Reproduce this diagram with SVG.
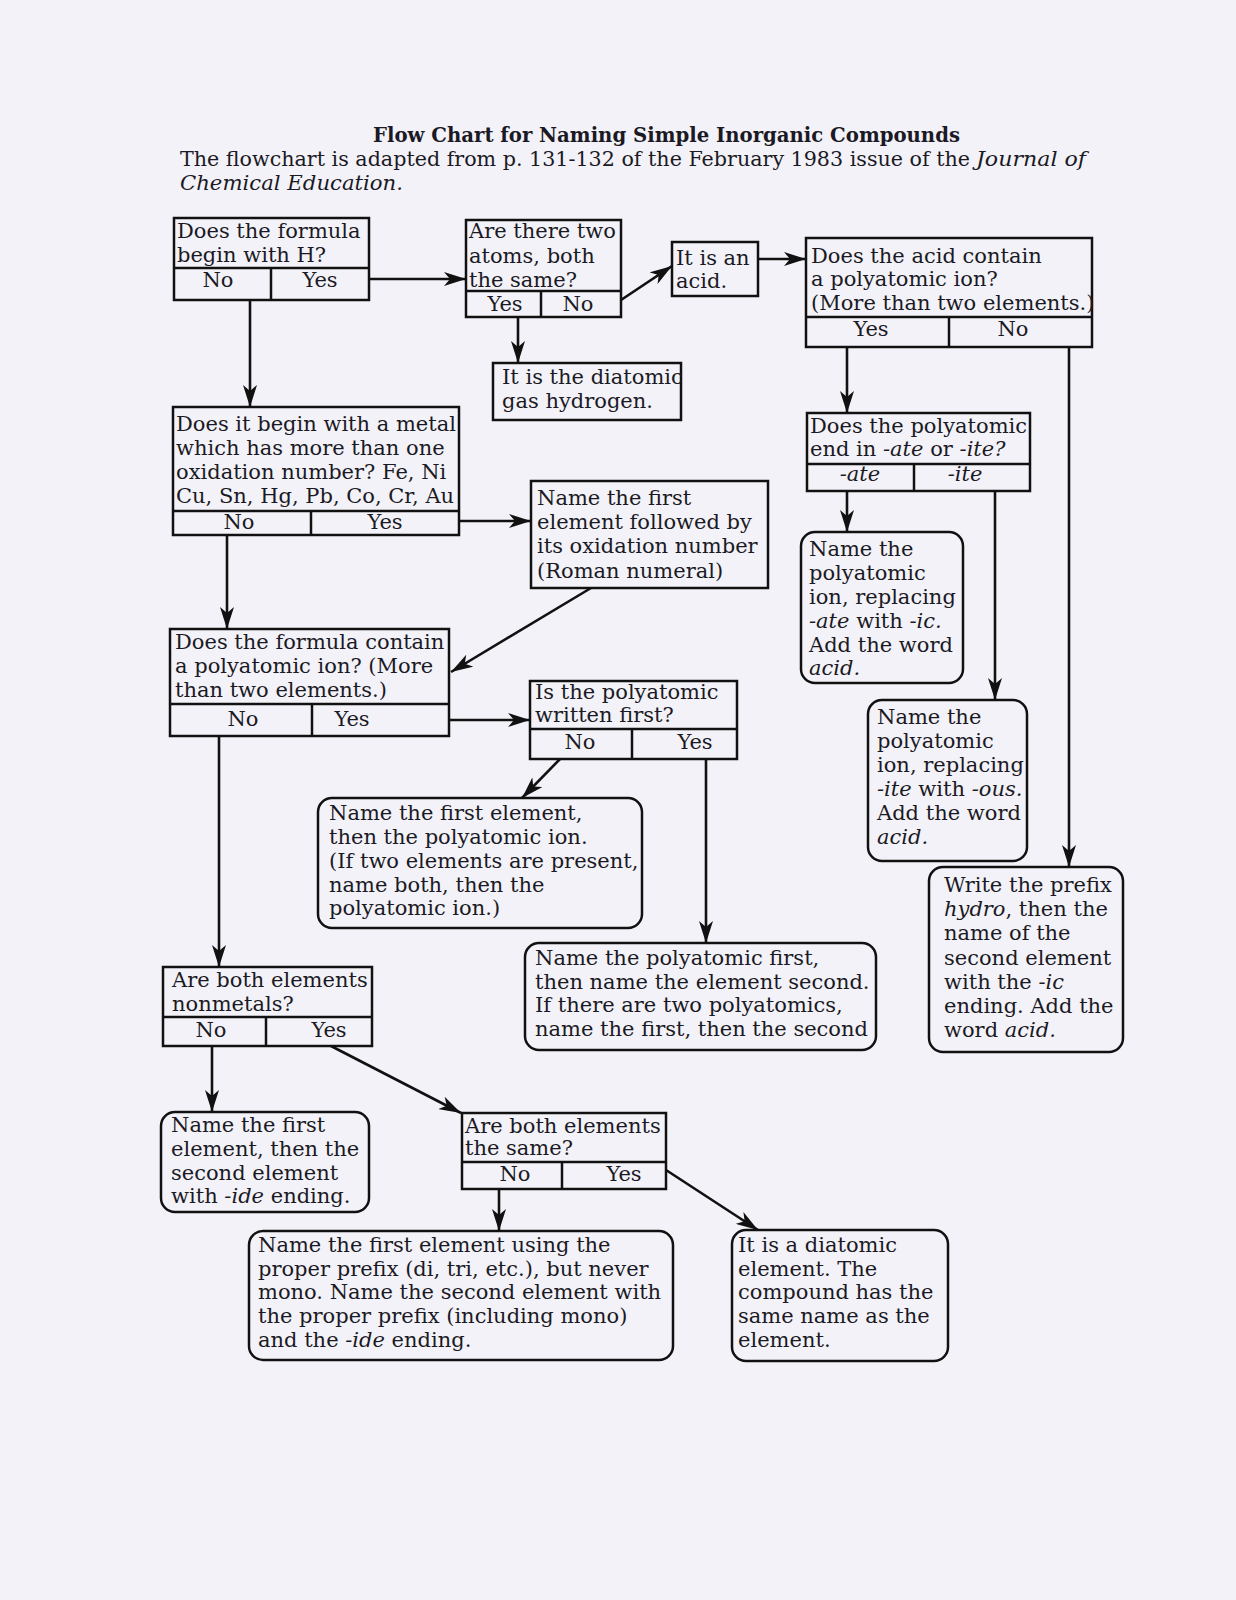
<svg xmlns="http://www.w3.org/2000/svg" width="1236" height="1600" viewBox="0 0 1236 1600">
<style>
.bx{fill:none;stroke:#111;stroke-width:2.5}
.dv{stroke:#111;stroke-width:2.5}
.t{font-family:"DejaVu Serif","Liberation Serif",serif;font-size:21px;fill:#1b1a24}
.c{text-anchor:middle}
.i{font-style:italic}
.cn{fill:none;stroke:#111;stroke-width:2.6}
</style>
<defs>
<marker id="ah" markerUnits="userSpaceOnUse" markerWidth="24" markerHeight="14" refX="22" refY="7" orient="auto">
<path d="M0,0 L22,7 L0,14 L6,7 Z" fill="#111"/>
</marker>
</defs>
<rect x="0" y="0" width="1236" height="1600" fill="#f3f2f9"/>

<g id="title">
<text x="373" y="142" textLength="587" lengthAdjust="spacingAndGlyphs" style="font-family:'DejaVu Serif',serif;font-weight:bold;font-size:20px;fill:#1b1a24">Flow Chart for Naming Simple Inorganic Compounds</text>
<text x="180" y="166" textLength="790" lengthAdjust="spacingAndGlyphs" style="font-family:'DejaVu Serif',serif;font-size:21px;fill:#1b1a24">The flowchart is adapted from p. 131-132 of the February 1983 issue of the</text>
<text x="976" y="166" textLength="110" lengthAdjust="spacingAndGlyphs" style="font-family:'DejaVu Serif',serif;font-size:21px;font-style:italic;fill:#1b1a24">Journal of</text>
<text x="180" y="190" textLength="223" lengthAdjust="spacingAndGlyphs" style="font-family:'DejaVu Serif',serif;font-size:21px;font-style:italic;fill:#1b1a24">Chemical  Education.</text>
</g>

<g id="connectors">
<path class="cn" d="M369,279 H466" marker-end="url(#ah)"/>
<path class="cn" d="M250,300 V407" marker-end="url(#ah)"/>
<path class="cn" d="M518,317 V363" marker-end="url(#ah)"/>
<path class="cn" d="M621,300 L672,266" marker-end="url(#ah)"/>
<path class="cn" d="M758,259 H806" marker-end="url(#ah)"/>
<path class="cn" d="M847,347 V413" marker-end="url(#ah)"/>
<path class="cn" d="M1069,347 V867" marker-end="url(#ah)"/>
<path class="cn" d="M847,491 V532" marker-end="url(#ah)"/>
<path class="cn" d="M995,491 V700" marker-end="url(#ah)"/>
<path class="cn" d="M459,521 H531" marker-end="url(#ah)"/>
<path class="cn" d="M227,535 V629" marker-end="url(#ah)"/>
<path class="cn" d="M591,588 L451,672" marker-end="url(#ah)"/>
<path class="cn" d="M449,720 H530" marker-end="url(#ah)"/>
<path class="cn" d="M219,736 V967" marker-end="url(#ah)"/>
<path class="cn" d="M560,759 L522,798" marker-end="url(#ah)"/>
<path class="cn" d="M706,759 V943" marker-end="url(#ah)"/>
<path class="cn" d="M212,1046 V1112" marker-end="url(#ah)"/>
<path class="cn" d="M331,1046 L461,1113" marker-end="url(#ah)"/>
<path class="cn" d="M499,1189 V1231" marker-end="url(#ah)"/>
<path class="cn" d="M666,1170 L758,1230" marker-end="url(#ah)"/>
</g>

<g id="n-begin-h">
<rect class="bx" x="174" y="218" width="195" height="82"/>
<line class="dv" x1="174" y1="268" x2="369" y2="268"/>
<line class="dv" x1="271" y1="268" x2="271" y2="300"/>
<text class="t" x="177" y="238">Does the formula</text>
<text class="t" x="177" y="262">begin with H?</text>
<text class="t c" x="218" y="287">No</text>
<text class="t c" x="320" y="287">Yes</text>
</g>

<g id="n-two-atoms">
<rect class="bx" x="466" y="220" width="155" height="97"/>
<line class="dv" x1="466" y1="291" x2="621" y2="291"/>
<line class="dv" x1="541" y1="291" x2="541" y2="317"/>
<text class="t" x="469" y="238">Are there two</text>
<text class="t" x="469" y="263">atoms, both</text>
<text class="t" x="469" y="287">the same?</text>
<text class="t c" x="505" y="311">Yes</text>
<text class="t c" x="578" y="311">No</text>
</g>

<g id="n-diatomic-gas">
<rect class="bx" x="493" y="363" width="188" height="57"/>
<text class="t" x="502" y="384">It is the diatomic</text>
<text class="t" x="502" y="408">gas hydrogen.</text>
</g>

<g id="n-acid">
<rect class="bx" x="672" y="242" width="86" height="54"/>
<text class="t" x="676" y="265">It is an</text>
<text class="t" x="676" y="288">acid.</text>
</g>

<g id="n-acid-poly">
<rect class="bx" x="806" y="238" width="286" height="109"/>
<line class="dv" x1="806" y1="317" x2="1092" y2="317"/>
<line class="dv" x1="949" y1="317" x2="949" y2="347"/>
<text class="t" x="811" y="263">Does the acid contain</text>
<text class="t" x="811" y="286">a polyatomic ion?</text>
<text class="t" x="811" y="310">(More than two elements.)</text>
<text class="t c" x="871" y="336">Yes</text>
<text class="t c" x="1013" y="336">No</text>
</g>

<g id="n-ate-ite">
<rect class="bx" x="807" y="413" width="223" height="78"/>
<line class="dv" x1="807" y1="464" x2="1030" y2="464"/>
<line class="dv" x1="914" y1="464" x2="914" y2="491"/>
<text class="t" x="810" y="433">Does the polyatomic</text>
<text class="t" x="810" y="456">end in <tspan class="i">-ate</tspan> or <tspan class="i">-ite?</tspan></text>
<text class="t c i" x="860" y="481">-ate</text>
<text class="t c i" x="965" y="481">-ite</text>
</g>

<g id="n-ate-result">
<rect class="bx" x="801" y="532" width="162" height="151" rx="14"/>
<text class="t" x="809" y="556">Name the</text>
<text class="t" x="809" y="580">polyatomic</text>
<text class="t" x="809" y="604">ion, replacing</text>
<text class="t" x="809" y="628"><tspan class="i">-ate</tspan> with <tspan class="i">-ic.</tspan></text>
<text class="t" x="809" y="652">Add the word</text>
<text class="t i" x="809" y="675">acid.</text>
</g>

<g id="n-ite-result">
<rect class="bx" x="868" y="700" width="159" height="161" rx="14"/>
<text class="t" x="877" y="724">Name the</text>
<text class="t" x="877" y="748">polyatomic</text>
<text class="t" x="877" y="772">ion, replacing</text>
<text class="t" x="877" y="796"><tspan class="i">-ite</tspan> with <tspan class="i">-ous.</tspan></text>
<text class="t" x="877" y="820">Add the word</text>
<text class="t i" x="877" y="844">acid.</text>
</g>

<g id="n-hydro">
<rect class="bx" x="929" y="867" width="194" height="185" rx="14"/>
<text class="t" x="944" y="892">Write the prefix</text>
<text class="t" x="944" y="916"><tspan class="i">hydro</tspan>, then the</text>
<text class="t" x="944" y="940">name of the</text>
<text class="t" x="944" y="965">second element</text>
<text class="t" x="944" y="989">with the <tspan class="i">-ic</tspan></text>
<text class="t" x="944" y="1013">ending. Add the</text>
<text class="t" x="944" y="1037">word <tspan class="i">acid.</tspan></text>
</g>

<g id="n-metal">
<rect class="bx" x="173" y="407" width="286" height="128"/>
<line class="dv" x1="173" y1="511" x2="459" y2="511"/>
<line class="dv" x1="311" y1="511" x2="311" y2="535"/>
<text class="t" x="176" y="431">Does it begin with a metal</text>
<text class="t" x="176" y="455">which has more than one</text>
<text class="t" x="176" y="479">oxidation number? Fe, Ni</text>
<text class="t" x="176" y="503">Cu, Sn, Hg, Pb, Co, Cr, Au</text>
<text class="t c" x="239" y="529">No</text>
<text class="t c" x="385" y="529">Yes</text>
</g>

<g id="n-roman">
<rect class="bx" x="531" y="481" width="237" height="107"/>
<text class="t" x="537" y="505">Name the first</text>
<text class="t" x="537" y="529">element followed by</text>
<text class="t" x="537" y="553">its oxidation number</text>
<text class="t" x="537" y="578">(Roman  numeral)</text>
</g>

<g id="n-formula-poly">
<rect class="bx" x="170" y="629" width="279" height="107"/>
<line class="dv" x1="170" y1="704" x2="449" y2="704"/>
<line class="dv" x1="312" y1="704" x2="312" y2="736"/>
<text class="t" x="175" y="649">Does the formula contain</text>
<text class="t" x="175" y="673">a polyatomic ion? (More</text>
<text class="t" x="175" y="697">than two elements.)</text>
<text class="t c" x="243" y="726">No</text>
<text class="t c" x="352" y="726">Yes</text>
</g>

<g id="n-poly-first">
<rect class="bx" x="530" y="681" width="207" height="78"/>
<line class="dv" x1="530" y1="729" x2="737" y2="729"/>
<line class="dv" x1="632" y1="729" x2="632" y2="759"/>
<text class="t" x="535" y="699">Is the polyatomic</text>
<text class="t" x="535" y="722">written first?</text>
<text class="t c" x="580" y="749">No</text>
<text class="t c" x="695" y="749">Yes</text>
</g>

<g id="n-elem-then-poly">
<rect class="bx" x="318" y="798" width="324" height="130" rx="14"/>
<text class="t" x="329" y="820">Name the first element,</text>
<text class="t" x="329" y="844">then the polyatomic ion.</text>
<text class="t" x="329" y="868">(If two elements are present,</text>
<text class="t" x="329" y="892">name both, then the</text>
<text class="t" x="329" y="915">polyatomic ion.)</text>
</g>

<g id="n-poly-then-elem">
<rect class="bx" x="525" y="943" width="351" height="107" rx="14"/>
<text class="t" x="535" y="965">Name the polyatomic first,</text>
<text class="t" x="535" y="989">then name the element second.</text>
<text class="t" x="535" y="1012">If there are two polyatomics,</text>
<text class="t" x="535" y="1036">name the first, then the second</text>
</g>

<g id="n-nonmetals">
<rect class="bx" x="163" y="967" width="209" height="79"/>
<line class="dv" x1="163" y1="1017" x2="372" y2="1017"/>
<line class="dv" x1="266" y1="1017" x2="266" y2="1046"/>
<text class="t" x="172" y="987">Are both elements</text>
<text class="t" x="172" y="1011">nonmetals?</text>
<text class="t c" x="211" y="1037">No</text>
<text class="t c" x="329" y="1037">Yes</text>
</g>

<g id="n-ide">
<rect class="bx" x="161" y="1112" width="208" height="100" rx="14"/>
<text class="t" x="171" y="1132">Name the first</text>
<text class="t" x="171" y="1156">element, then the</text>
<text class="t" x="171" y="1180">second element</text>
<text class="t" x="171" y="1203">with <tspan class="i">-ide</tspan> ending.</text>
</g>

<g id="n-same">
<rect class="bx" x="462" y="1113" width="204" height="76"/>
<line class="dv" x1="462" y1="1162" x2="666" y2="1162"/>
<line class="dv" x1="562" y1="1162" x2="562" y2="1189"/>
<text class="t" x="465" y="1133">Are both elements</text>
<text class="t" x="465" y="1155">the same?</text>
<text class="t c" x="515" y="1181">No</text>
<text class="t c" x="624" y="1181">Yes</text>
</g>

<g id="n-prefix">
<rect class="bx" x="249" y="1231" width="424" height="129" rx="14"/>
<text class="t" x="258" y="1252">Name the first element using the</text>
<text class="t" x="258" y="1276">proper prefix (di, tri, etc.), but never</text>
<text class="t" x="258" y="1299">mono. Name the second element with</text>
<text class="t" x="258" y="1323">the proper prefix (including mono)</text>
<text class="t" x="258" y="1347">and the <tspan class="i">-ide</tspan> ending.</text>
</g>

<g id="n-diatomic-elem">
<rect class="bx" x="732" y="1230" width="216" height="131" rx="14"/>
<text class="t" x="738" y="1252">It is a diatomic</text>
<text class="t" x="738" y="1276">element. The</text>
<text class="t" x="738" y="1299">compound has the</text>
<text class="t" x="738" y="1323">same name as the</text>
<text class="t" x="738" y="1347">element.</text>
</g>
</svg>
